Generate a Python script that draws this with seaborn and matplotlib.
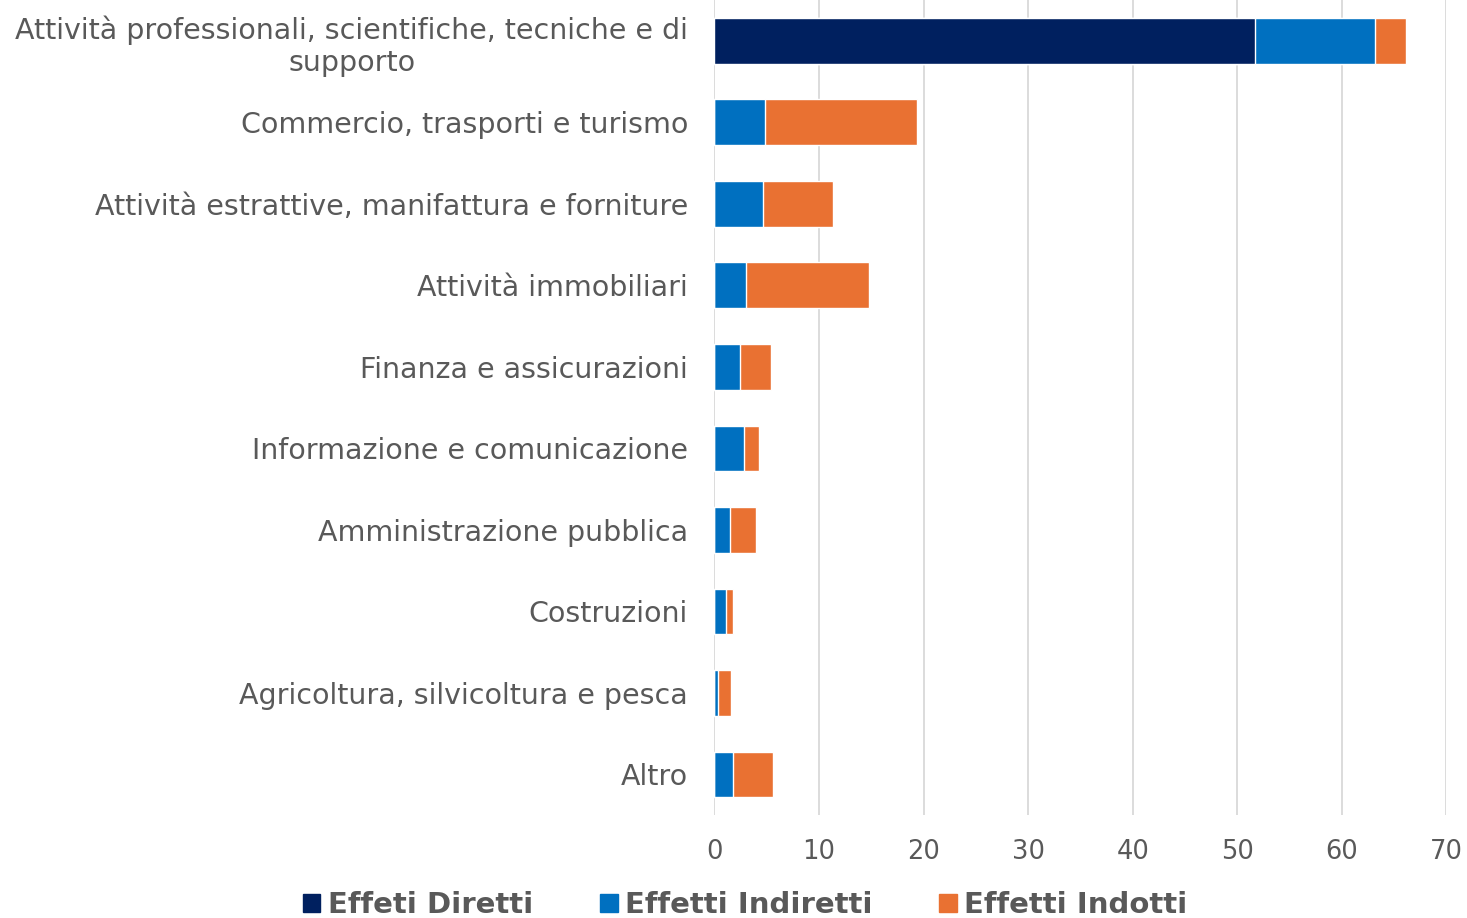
import matplotlib
matplotlib.use('Agg')
import matplotlib.pyplot as plt
import seaborn as sns
import numpy as np
from matplotlib.patches import Patch

# --- DATI ---
settori = [
    "Attività professionali, scientifiche, tecniche e di\nsupporto",
    "Commercio, trasporti e turismo",
    "Attività estrattive, manifattura e forniture",
    "Attività immobiliari",
    "Finanza e assicurazioni",
    "Informazione e comunicazione",
    "Amministrazione pubblica",
    "Costruzioni",
    "Agricoltura, silvicoltura e pesca",
    "Altro",
]
effetti_diretti = [51.7, 0, 0, 0, 0, 0, 0, 0, 0, 0]
effetti_indiretti = [11.5, 4.85, 4.6, 3.0, 2.4, 2.8, 1.45, 1.15, 0.3, 1.75]
effetti_indotti = [2.9, 14.55, 6.75, 11.8, 3.0, 1.5, 2.55, 0.65, 1.3, 3.85]

COL_DIR = "#00205F"
COL_IND = "#0070C0"
COL_INDOT = "#E97132"
GRIGIO = "#595959"

d = np.array(effetti_diretti)
i = np.array(effetti_indiretti)
o = np.array(effetti_indotti)

sns.set_style("white")
plt.rcParams['font.family'] = ['DejaVu Sans']

fig, ax = plt.subplots(figsize=(14.67, 9.18), dpi=100)
fig.subplots_adjust(left=0.487, right=0.986, top=1.0, bottom=0.112)

# barre cumulative: prima il totale, poi gli strati sopra
sns.barplot(x=d + i + o, y=settori, color=COL_INDOT, width=0.56,
            saturation=1, orient="h", ax=ax, zorder=3)
sns.barplot(x=d + i, y=settori, color=COL_IND, width=0.56,
            saturation=1, orient="h", ax=ax, zorder=3)
sns.barplot(x=d, y=settori, color=COL_DIR, width=0.56,
            saturation=1, orient="h", ax=ax, zorder=3)

ax.set_xlim(0, 70)
ax.set_xticks(range(0, 71, 10))
ax.xaxis.grid(True, color="#D9D9D9", linewidth=1.3, zorder=0)
ax.yaxis.grid(False)
for s in ax.spines.values():
    s.set_visible(False)
ax.set_xlabel("")
ax.set_ylabel("")
ax.tick_params(axis="y", length=0, pad=19, labelsize=20.5, labelcolor=GRIGIO)
ax.tick_params(axis="x", length=0, pad=17, labelsize=18.5, labelcolor=GRIGIO)
for lab in ax.get_yticklabels():
    lab.set_multialignment("center")
    lab.set_linespacing(1.2)

handles = [Patch(color=COL_DIR, label="Effeti Diretti"),
           Patch(color=COL_IND, label="Effetti Indiretti"),
           Patch(color=COL_INDOT, label="Effetti Indotti")]
leg = fig.legend(handles=handles, loc="lower center", bbox_to_anchor=(0.508, -0.03),
                 ncol=3, frameon=False, handlelength=0.6, handleheight=0.6,
                 handletextpad=0.25, columnspacing=2.3,
                 prop={"size": 21, "weight": "bold"})
for t in leg.get_texts():
    t.set_color(GRIGIO)

plt.savefig("out.png", dpi=100)
plt.close()
